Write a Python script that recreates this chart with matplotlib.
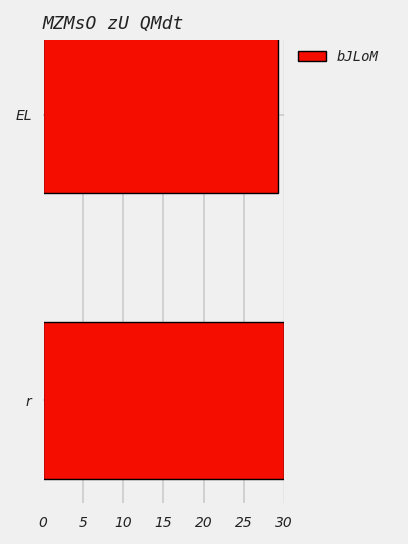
import matplotlib
matplotlib.use("Agg")
import matplotlib.pyplot as plt
from matplotlib.transforms import Bbox, TransformedBbox

plt.style.use("fivethirtyeight")

categories = ["r", "EL"]
values = [30.0, 29.2]
series_name = "bJLoM"
title = "MZMsO zU QMdt"
xticks = [0, 5, 10, 15, 20, 25, 30]

fig = plt.figure(figsize=(4.08, 5.44), dpi=100, facecolor="#f0f0f0")
ax = fig.add_axes([0.105, 0.075, 0.591, 0.851])
ax.set_facecolor("#f0f0f0")

bars = ax.barh(categories, values, height=0.55, color="#f50d00", edgecolor="black",
               linewidth=1, label=series_name, zorder=3)
# left edge of the bars sits under the axis border in the original
clip = TransformedBbox(Bbox([[0.004, 0.0], [1.0, 1.0]]), ax.transAxes)
for b in bars:
    b.set_clip_box(clip)

ax.set_xlim(0, 30)
ax.set_ylim(-0.36, 1.26)
ax.set_xticks(xticks)
ax.set_xticklabels([str(t) for t in xticks], fontstyle="italic", fontsize=10)
ax.set_yticks(range(len(categories)))
ax.set_yticklabels(categories, fontstyle="italic", fontsize=10)
ax.tick_params(axis="x", length=0, pad=9, colors="#222222")
ax.tick_params(axis="y", length=0, pad=8, colors="#222222")
ax.grid(True, color="#cbcbcb", linewidth=1.2, zorder=0)
ax.get_xgridlines()[0].set_visible(False)
ax.get_xgridlines()[-1].set_alpha(0.3)
for s in ax.spines.values():
    s.set_visible(False)

ax.set_title(title, loc="left", family="DejaVu Sans Mono", fontstyle="italic",
             fontsize=13, color="#222222", pad=8)

leg = ax.legend(loc="upper left", bbox_to_anchor=(1.007, 1.006), frameon=False,
                prop={"family": "DejaVu Sans Mono", "style": "italic", "size": 10})
for t in leg.get_texts():
    t.set_color("#222222")

fig.savefig("out.png", dpi=100, facecolor=fig.get_facecolor())
